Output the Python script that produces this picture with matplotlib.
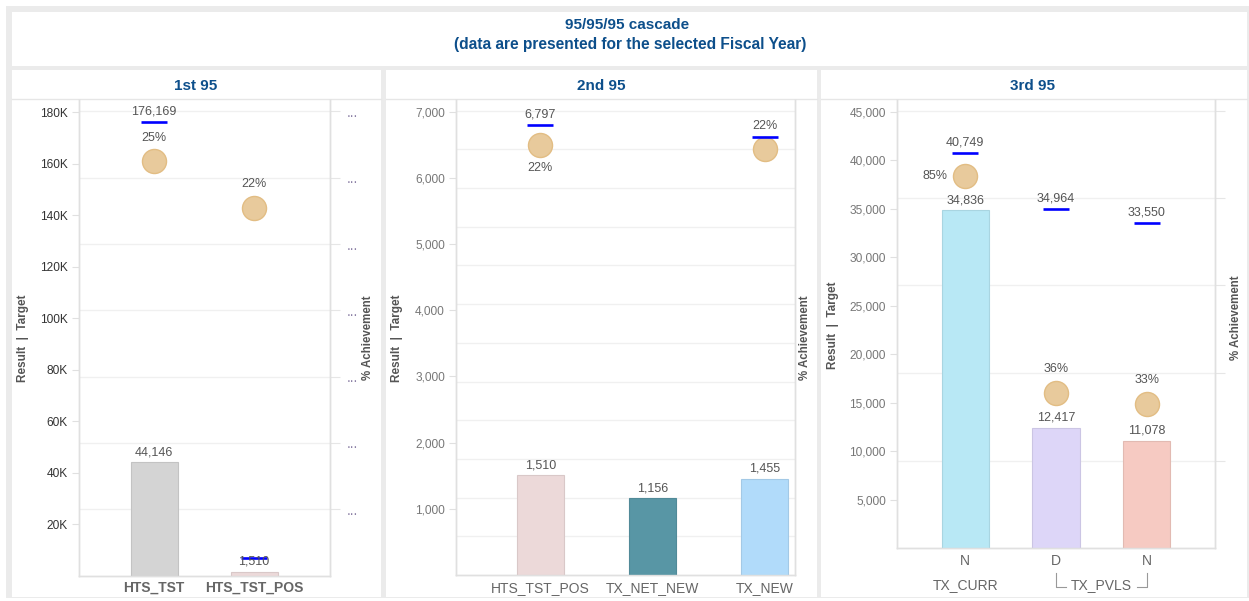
import numpy as np
import matplotlib
matplotlib.use("Agg")
import matplotlib.pyplot as plt
import matplotlib.ticker as mticker
from matplotlib.patches import Rectangle
from matplotlib.lines import Line2D
import matplotlib.transforms as mtrans

plt.rcParams['font.family'] = ['Liberation Sans', 'DejaVu Sans']

# ---- data ----
p1_cats = ["HTS_TST", "HTS_TST_POS"]
p1_result = [44146, 1510]
p1_target = [176169, 6797]
p1_target_lbl = ["176,169", ""]
p1_pct = [0.25, 0.222]
p1_colors = ["#d4d4d4", "#ecd9d9"]

p2_cats = ["HTS_TST_POS", "TX_NET_NEW", "TX_NEW"]
p2_result = [1510, 1156, 1455]
p2_target = [6797, np.nan, 6620]
p2_target_lbl = ["6,797", "", ""]
p2_pct = [0.222, np.nan, 0.22]
p2_colors = ["#ecd9d9", "#5896a5", "#b1dbfa"]

p3_cats = ["N", "D", "N"]
p3_groups = ["TX_CURR", "TX_PVLS"]
p3_result = [34836, 12417, 11078]
p3_target = [40749, 34964, 33550]
p3_target_lbl = ["40,749", "34,964", "33,550"]
p3_pct = [0.85, 0.355, 0.33]
p3_colors = ["#b8e8f5", "#ddd6f8", "#f6cac2"]

W, H = 1249, 601
fig = plt.figure(figsize=(W / 100, H / 100), dpi=100)
fig.patch.set_facecolor("white")

BLUE = "#0d4f8b"
GRID = "#f0f0f0"
LBL = "#555555"


def rect_px(x0, y0, x1, y1):
    return [x0 / W, 1 - y1 / H, (x1 - x0) / W, (y1 - y0) / H]


def box(x0, y0, x1, y1, color):
    fig.add_artist(Rectangle((x0 / W, 1 - y1 / H), (x1 - x0) / W, (y1 - y0) / H,
                             transform=fig.transFigure, facecolor=color,
                             edgecolor="none", zorder=-10))


def hline_px(x0, x1, y, color="#e6e6e6"):
    fig.add_artist(Line2D([x0 / W, x1 / W], [1 - y / H, 1 - y / H],
                          transform=fig.transFigure, color=color, lw=1, zorder=-5))


def ftext(x, y, s, **kw):
    fig.text(x / W, 1 - y / H, s, **kw)


# dashboard frame
box(6, 6, 1249, 598, "#ebebeb")
box(12, 12, 1247, 66, "white")
box(12, 70, 381, 597, "white")
box(386, 70, 817, 597, "white")
box(821, 70, 1247, 597, "white")
for a, b in [(12, 381), (386, 817), (821, 1247)]:
    hline_px(a, b, 99)

ftext(627, 25, "95/95/95 cascade", ha="center", va="center",
      fontsize=11, fontweight="bold", color=BLUE)
ftext(630, 44, "(data are presented for the selected Fiscal Year)", ha="center",
      va="center", fontsize=11.2, fontweight="bold", color=BLUE)
ftext(196, 86, "1st 95", ha="center", va="center", fontsize=11, fontweight="bold", color=BLUE)
ftext(601, 86, "2nd 95", ha="center", va="center", fontsize=11, fontweight="bold", color=BLUE)
ftext(1033, 86, "3rd 95", ha="center", va="center", fontsize=11, fontweight="bold", color=BLUE)


def panel(rect, cats, result, target, tlbl, pct, colors, xlim, ylim, yticks, yfmt,
          y2lim, y2ticks, barw, tgtw, pct_off, tick_color, xt_bold, y2_marks, y2_labels):
    ax = fig.add_axes(rect)
    ax2 = ax.twinx()
    ax.set_zorder(2)
    ax2.set_zorder(1)
    ax.patch.set_visible(False)
    ax2.patch.set_facecolor("white")

    x = np.arange(len(cats))
    ax.bar(x, result, width=barw, color=colors, linewidth=0.8, zorder=2)
    for patch in ax.patches:
        fc = np.array(matplotlib.colors.to_rgb(patch.get_facecolor()))
        patch.set_edgecolor(fc * 0.92)
    for xi, r in zip(x, result):
        ax.annotate(f"{r:,}", (xi, r), xytext=(0, 7), textcoords="offset points",
                    ha="center", va="center", fontsize=9, color=LBL, zorder=5)
    for xi, t, lb in zip(x, target, tlbl):
        if np.isnan(t):
            continue
        ax.hlines(t, xi - tgtw / 2, xi + tgtw / 2, color="#0000ff", lw=1.9, zorder=4)
        if lb:
            ax.annotate(lb, (xi, t), xytext=(0, 7.5), textcoords="offset points",
                        ha="center", va="center", fontsize=9, color=LBL, zorder=5)

    ax2.scatter(x, pct, s=300, color="#e8ca9c", edgecolor="#e2bd84", linewidth=1, zorder=3)
    for xi, p, off in zip(x, pct, pct_off):
        if np.isnan(p):
            continue
        ax2.annotate(f"{p:.0%}", (xi, p), xytext=off, textcoords="offset points",
                     ha="center", va="center", fontsize=9, color=LBL)

    ax.set_xlim(*xlim)
    ax.set_ylim(*ylim)
    ax2.set_ylim(*y2lim)
    ax.set_yticks(yticks)
    ax.yaxis.set_major_formatter(mticker.FuncFormatter(yfmt))
    ax.tick_params(axis="y", length=5, color="#e0e0e0", labelsize=8.6,
                   labelcolor=tick_color, pad=3)
    ax.set_xticks(x)
    ax.set_xticklabels(cats, fontsize=10, color="#666666",
                       fontweight="bold" if xt_bold else "normal")
    ax.tick_params(axis="x", length=0, pad=4)

    ax2.set_yticks(y2ticks)
    ax2.grid(True, axis="y", color=GRID, lw=1)
    ax2.set_axisbelow(True)
    if y2_labels:
        ax2.set_yticklabels(["..."] * len(y2ticks))
    else:
        ax2.set_yticklabels([])
    ax2.tick_params(axis="y", length=7 if y2_marks else 0, color="#e6e6e6",
                    labelsize=10, labelcolor="#8c80a6", pad=5)

    for a in (ax, ax2):
        a.spines["top"].set_visible(False)
        for s in ("left", "right", "bottom"):
            a.spines[s].set_color("#e0e0e0")
            a.spines[s].set_linewidth(1)
    return ax, ax2


def kfmt(v, pos):
    return f"{int(v / 1000)}K"


def cfmt(v, pos):
    return f"{int(v):,}"


# panel 1
ax1, ax1b = panel(rect_px(79, 100, 330, 575.5), p1_cats, p1_result, p1_target, p1_target_lbl,
                  p1_pct, p1_colors, (-0.75, 1.76), (0, 184700),
                  np.arange(20000, 180001, 20000), kfmt,
                  (0, 0.2869), np.arange(0.04, 0.281, 0.04), 0.47, 0.26,
                  [(0, 16.5), (0, 17)], "#333333", True, True, True)

# panel 2
ax2, ax2b = panel(rect_px(456, 100, 795, 575), p2_cats, p2_result, p2_target, p2_target_lbl,
                  p2_pct, p2_colors, (-0.75, 2.27), (0, 7175),
                  np.arange(1000, 7001, 1000), cfmt,
                  (0, 0.2455), np.arange(0.02, 0.241, 0.02), 0.42, 0.23,
                  [(0, -16.5), (0, 0), (0, 17)], "#777777", False, False, False)

# panel 3
ax3, ax3b = panel(rect_px(897, 100, 1215, 548), p3_cats, p3_result, p3_target, p3_target_lbl,
                  p3_pct, p3_colors, (-0.75, 2.75), (0, 46219),
                  np.arange(5000, 45001, 5000), cfmt,
                  (0, 1.024), np.arange(0.2, 1.01, 0.2), 0.52, 0.29,
                  [(-21.5, 0), (0, 17), (0, 17)], "#777777", False, True, False)

# second level labels for panel 3
trans = mtrans.blended_transform_factory(ax3.transData, ax3.transAxes)
ax3.text(0, -0.083, p3_groups[0], transform=trans, ha="center", va="center",
         fontsize=10, color="#666666")
ax3.text(1.5, -0.083, p3_groups[1], transform=trans, ha="center", va="center",
         fontsize=10, color="#666666")
ax3.plot([1, 1, 1.11], [-0.056, -0.088, -0.088], transform=trans, color="#999999",
         lw=0.8, clip_on=False)
ax3.plot([1.89, 2, 2], [-0.088, -0.088, -0.056], transform=trans, color="#999999",
         lw=0.8, clip_on=False)

# axis titles
for xx, yy in [(23, 338), (397, 338), (833, 325)]:
    ftext(xx, yy, "Result  |  Target", rotation=90, ha="center", va="center",
          fontsize=8.5, fontweight="bold", color=LBL)
for xx, yy in [(368, 338), (805, 338), (1236, 318)]:
    ftext(xx, yy, "% Achievement", rotation=90, ha="center", va="center",
          fontsize=8.3, fontweight="bold", color=LBL)

fig.savefig("out.png", dpi=100)
